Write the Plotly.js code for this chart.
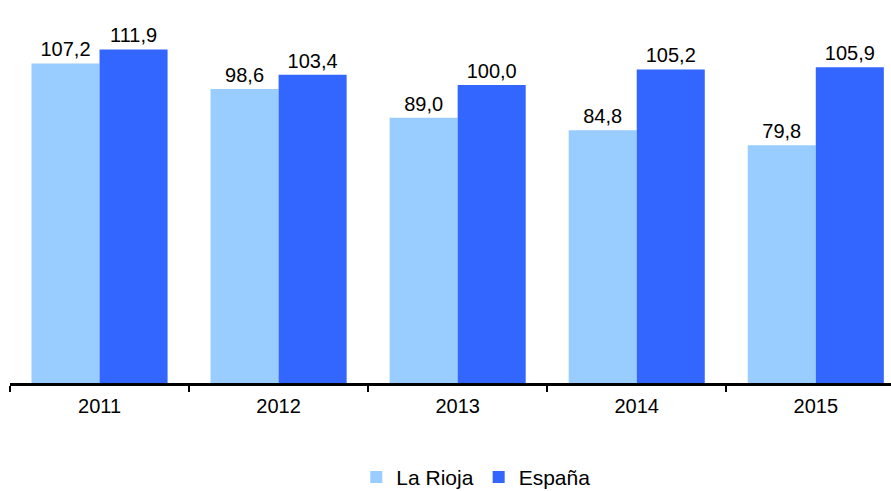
<!DOCTYPE html>
<html>
<head>
<meta charset="utf-8">
<script src="https://cdn.plot.ly/plotly-3.0.1.min.js"></script>
<style>html,body{margin:0;padding:0;background:#fff;}#chart{width:891px;height:491px;}</style>
</head>
<body>
<div id="chart"></div>
<script>
const years = ['2011', '2012', '2013', '2014', '2015'];
const laRioja = [107.2, 98.6, 89.0, 84.8, 79.8];
const espana = [111.9, 103.4, 100.0, 105.2, 105.9];
const seriesNames = ['La Rioja', 'España'];
const colors = ['#99CCFF', '#3366FF'];

const font = {family: 'Liberation Sans, Arial, Helvetica, sans-serif', color: '#000'};

function mk(name, vals, color) {
  return {
    type: 'bar', name: name, x: years, y: vals,
    marker: {color: color},
    text: vals.map(v => v.toFixed(1).replace('.', ',')),
    textposition: 'outside', cliponaxis: false, constraintext: 'none',
    textfont: Object.assign({size: 20}, font),
    hoverinfo: 'skip'
  };
}

const data = [mk(seriesNames[0], laRioja, colors[0]), mk(seriesNames[1], espana, colors[1])];

const layout = {
  width: 891, height: 491,
  margin: {l: 10, r: 0, t: 0, b: 108},
  paper_bgcolor: '#fff', plot_bgcolor: '#fff',
  barmode: 'group', bargap: 0.24, bargroupgap: 0,
  font: font,
  showlegend: true,
  legend: {orientation: 'h', xref: 'container', yref: 'container', x: 0.534, xanchor: 'center', y: 0.028, yanchor: 'middle',
           font: Object.assign({size: 21}, font), itemwidth: 20, tracegroupgap: 0},
  xaxis: {type: 'category', range: [-0.5, 4.42], showline: true, linecolor: '#000', linewidth: 3,
          ticks: 'outside', tickson: 'boundaries', ticklen: 6, tickwidth: 2, tickcolor: '#000',
          ticklabelstandoff: 3,
          tickfont: Object.assign({size: 20}, font), showgrid: false, zeroline: false, fixedrange: true},
  yaxis: {range: [0, 128.5], visible: false, showgrid: false, zeroline: false, fixedrange: true}
};

Plotly.newPlot('chart', data, layout, {displayModeBar: false, staticPlot: true});
</script>
</body>
</html>
